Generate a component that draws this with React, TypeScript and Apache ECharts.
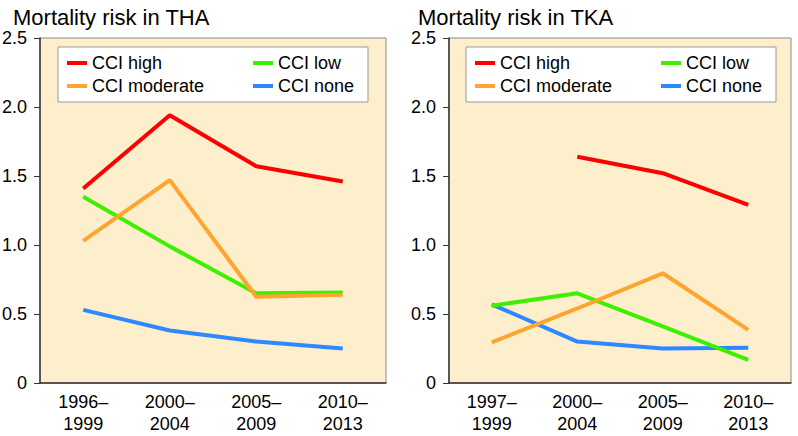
import React, { useEffect, useRef } from "react";
import * as echarts from "echarts";

const thaCategories = ["1996–\n1999", "2000–\n2004", "2005–\n2009", "2010–\n2013"];
const tkaCategories = ["1997–\n1999", "2000–\n2004", "2005–\n2009", "2010–\n2013"];

const seriesNames = ["CCI high", "CCI moderate", "CCI low", "CCI none"];
const seriesColors = ["#FF0000", "#FFA42F", "#3EF000", "#2E88FF"];

const thaHigh = [1.41, 1.94, 1.57, 1.46];
const thaModerate = [1.03, 1.47, 0.625, 0.64];
const thaLow = [1.35, 0.99, 0.65, 0.655];
const thaNone = [0.53, 0.38, 0.3, 0.25];

const tkaHigh = [null, 1.64, 1.52, 1.29];
const tkaModerate = [0.295, 0.54, 0.795, 0.385];
const tkaLow = [0.56, 0.65, 0.41, 0.167];
const tkaNone = [0.57, 0.3, 0.25, 0.255];

const FONT = "Liberation Sans";

export default function App() {
  const ref = useRef<HTMLDivElement>(null);
  useEffect(() => {
    if (!ref.current) return;
    const chart = echarts.init(ref.current, null, { renderer: "svg" });
    const thaData = [thaHigh, thaModerate, thaLow, thaNone];
    const tkaData = [tkaHigh, tkaModerate, tkaLow, tkaNone];

    const makeX = (idx: number, cats: string[]) => ({
      type: "category",
      gridIndex: idx,
      data: cats,
      boundaryGap: true,
      axisTick: { show: false },
      axisLine: { lineStyle: { color: "#333", width: 1.5 } },
      axisLabel: {
        color: "#000",
        fontSize: 18,
        fontFamily: FONT,
        lineHeight: 22,
        margin: 8,
      },
    });
    const makeY = (idx: number) => ({
      type: "value",
      gridIndex: idx,
      min: 0,
      max: 2.5,
      interval: 0.5,
      splitLine: { show: false },
      axisLine: { show: true, lineStyle: { color: "#333", width: 1.5 } },
      axisTick: { show: true, length: 6, lineStyle: { color: "#333" } },
      axisLabel: {
        color: "#000",
        fontSize: 18,
        fontFamily: FONT,
        margin: 13,
        formatter: (v: number) => (v === 0 ? "0" : v.toFixed(1)),
      },
    });

    const series: any[] = [];
    [thaData, tkaData].forEach((set, gi) => {
      set.forEach((d, i) => {
        series.push({
          type: "line",
          name: seriesNames[i],
          xAxisIndex: gi,
          yAxisIndex: gi,
          data: d,
          showSymbol: false,
          symbol: "none",
          color: seriesColors[i],
          lineStyle: { width: 4, color: seriesColors[i] },
          z: 10 - i,
        });
      });
    });

    const legendBase = {
      orient: "vertical",
      icon: "rect",
      itemWidth: 20,
      itemHeight: 4,
      itemGap: 5,
      padding: 0,
      selectedMode: false,
      z: 30,
      textStyle: { fontSize: 18, fontFamily: FONT, color: "#000" },
    };

    chart.setOption({
      animation: false,
      title: [
        {
          text: "Mortality risk in THA",
          left: 8,
          top: 1,
          textStyle: { fontSize: 22, fontWeight: "normal", fontFamily: FONT, color: "#000" },
        },
        {
          text: "Mortality risk in TKA",
          left: 413,
          top: 1,
          textStyle: { fontSize: 22, fontWeight: "normal", fontFamily: FONT, color: "#000" },
        },
      ],
      grid: [
        {
          left: 40, right: 412, top: 38, bottom: 53, outerBoundsMode: "none", containLabel: false,
          show: true, backgroundColor: "#FEEFCC", borderColor: "#8a8a8a", borderWidth: 1,
        },
        {
          left: 449, right: 7, top: 38, bottom: 53, outerBoundsMode: "none", containLabel: false,
          show: true, backgroundColor: "#FEEFCC", borderColor: "#8a8a8a", borderWidth: 1,
        },
      ],
      xAxis: [makeX(0, thaCategories), makeX(1, tkaCategories)],
      yAxis: [makeY(0), makeY(1)],
      graphic: [
        {
          type: "rect",
          shape: { x: 58, y: 47, width: 310, height: 55 },
          style: { fill: "#fff", stroke: "#999", lineWidth: 1 },
          z: 20,
        },
        {
          type: "rect",
          shape: { x: 466, y: 47, width: 310, height: 55 },
          style: { fill: "#fff", stroke: "#999", lineWidth: 1 },
          z: 20,
        },
      ],
      legend: [
        { ...legendBase, left: 67, top: 54, data: [seriesNames[0], seriesNames[1]] },
        { ...legendBase, left: 253, top: 54, data: [seriesNames[2], seriesNames[3]] },
        { ...legendBase, left: 475, top: 54, data: [seriesNames[0], seriesNames[1]] },
        { ...legendBase, left: 661, top: 54, data: [seriesNames[2], seriesNames[3]] },
      ],
      series,
    });
    return () => chart.dispose();
  }, []);
  return (
    <div
      ref={ref}
      style={{ position: "fixed", left: 0, top: 0, width: 798, height: 436, background: "#fff" }}
    />
  );
}
